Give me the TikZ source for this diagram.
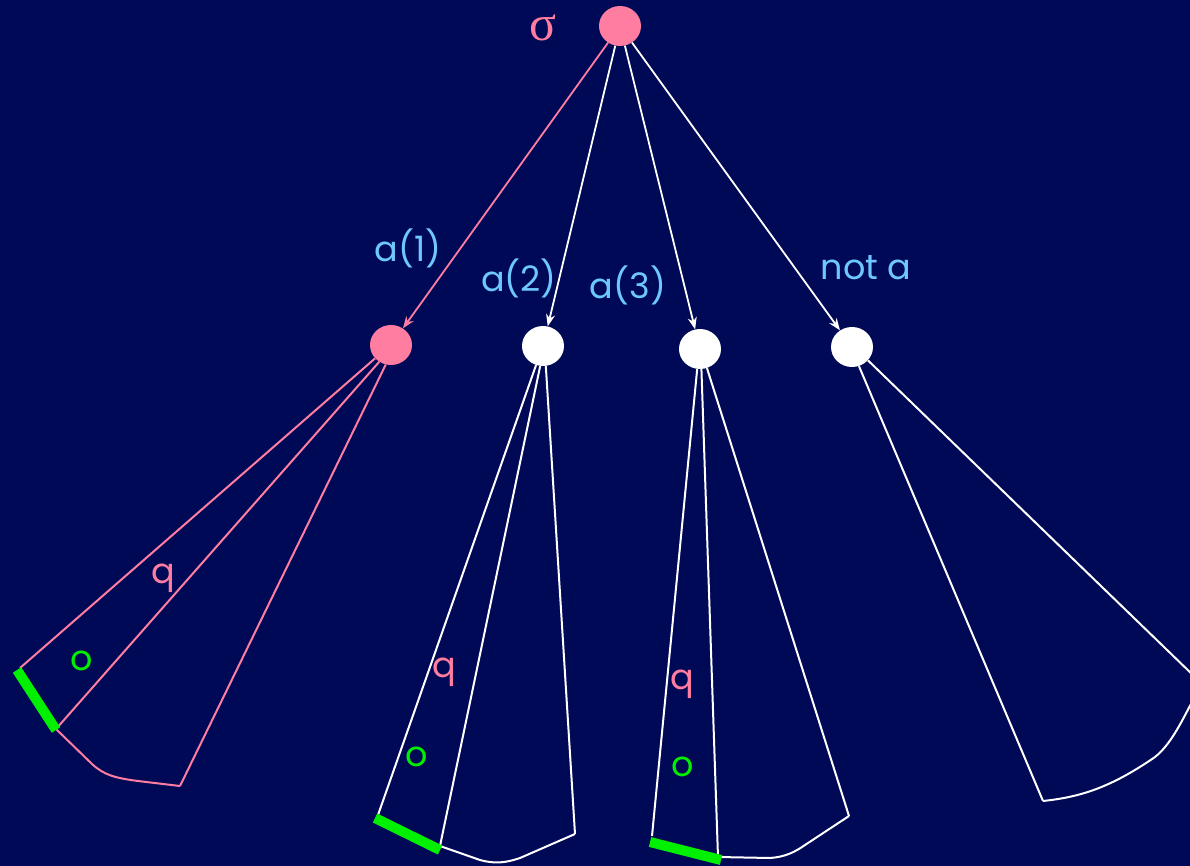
\documentclass[tikz,border=0pt]{standalone}
\usepackage{fontspec}
\setmainfont{Poppins}
\newfontfamily\serifsig{Liberation Serif}
\usetikzlibrary{arrows.meta,shapes.geometric}
\definecolor{bg}{RGB}{0,9,86}
\definecolor{pinkc}{RGB}{255,125,160}
\definecolor{bluec}{RGB}{110,200,255}
\definecolor{greenc}{RGB}{0,240,0}
\tikzset{
  dot/.style={ellipse, inner sep=0pt, minimum width=42pt, minimum height=40pt},
  pdot/.style={dot, fill=pinkc},
  wdot/.style={dot, fill=white},
  arr/.style={-{Stealth[length=12pt,width=9pt]}, line width=1.8pt},
  tree/.style={line width=2pt},
  bar/.style={greenc, line width=10pt},
  lab/.style={font=\fontsize{35}{38}\selectfont, text=bluec, inner sep=0pt},
  qlab/.style={font=\fontsize{35}{38}\selectfont, text=pinkc, inner sep=0pt},
  olab/.style={font=\fontsize{35}{38}\selectfont, text=greenc, inner sep=0pt},
}
\begin{document}
\begin{tikzpicture}[x=1pt,y=-1pt]
\fill[bg] (0,0) rectangle (1190,866);
\useasboundingbox (0,0) rectangle (1190,866);
\begin{scope}
\clip (0,0) rectangle (1190,866);
% nodes
\node[pdot] (r) at (620,26) {};
\node[pdot] (n1) at (391,345) {};
\node[wdot] (n2) at (543,346) {};
\node[wdot] (n3) at (700,349) {};
\node[wdot] (n4) at (852,347) {};
% labels
\node[text=pinkc, font=\serifsig\fontsize{50}{50}\selectfont, inner sep=0pt] (sig) at (543,28) {σ};
\node[lab] (l1) at (408,248) {a(1)};
\node[lab] (l2) at (519,278) {a(2)};
\node[lab] (l3) at (628,285) {a(3)};
\node[lab] (l4) at (866,268) {not a};
% arrows
\draw[arr, pinkc] (r) -- (n1);
\draw[arr, white] (r) -- (n2);
\draw[arr, white] (r) -- (n3);
\draw[arr, white] (r) -- (n4);
% subtree 1
\coordinate (a1) at (20,668);
\coordinate (b1) at (56,729);
\coordinate (c1) at (180,786);
\draw[tree, pinkc] (n1.220) -- (a1);
\draw[tree, pinkc] (n1.235) -- (b1);
\draw[tree, pinkc] (n1.255) -- (c1);
\draw[tree, pinkc] (b1) -- (92,764) .. controls (104,775) and (115,778) .. (138,781) -- (c1);
\draw[bar] (17,670) -- (56,730);
\node[qlab] (q1) at (163,578) {q};
\node[olab] (o1) at (82,661) {o};
% subtree 2
\coordinate (a2) at (378,815);
\coordinate (b2) at (440,846);
\coordinate (c2) at (575,834);
\draw[tree, white] (n2.250) -- (a2);
\draw[tree, white] (n2.262) -- (b2);
\draw[tree, white] (n2.278) -- (c2);
\draw[tree, white] (b2) -- (480,860) .. controls (495,864) and (505,863) .. (520,858) -- (c2);
\draw[bar] (375,818) -- (440,850);
\node[qlab] (q2) at (444,672) {q};
\node[olab] (o2) at (417,757) {o};
% subtree 3
\coordinate (a3) at (652,836);
\coordinate (b3) at (718,857);
\coordinate (c3) at (849,816);
\draw[tree, white] (n3.262) -- (a3);
\draw[tree, white] (n3.274) -- (b3);
\draw[tree, white] (n3.290) -- (c3);
\draw[tree, white] (b3) -- (770,858) .. controls (785,857) and (795,852) .. (805,845) -- (c3);
\draw[bar] (650,842) -- (721,860);
\node[qlab] (q3) at (682,684) {q};
\node[olab] (o3) at (683,767) {o};
% subtree 4
\coordinate (a4) at (1043,801);
\coordinate (b4) at (1196,678);
\draw[tree, white] (n4.290) -- (a4);
\draw[tree, white] (n4.320) -- (b4);
\draw[tree, white] (a4) .. controls (1080,797) and (1110,788) .. (1155,757) .. controls (1170,745) and (1180,725) .. (1194,698);
\end{scope}
\end{tikzpicture}
\end{document}
